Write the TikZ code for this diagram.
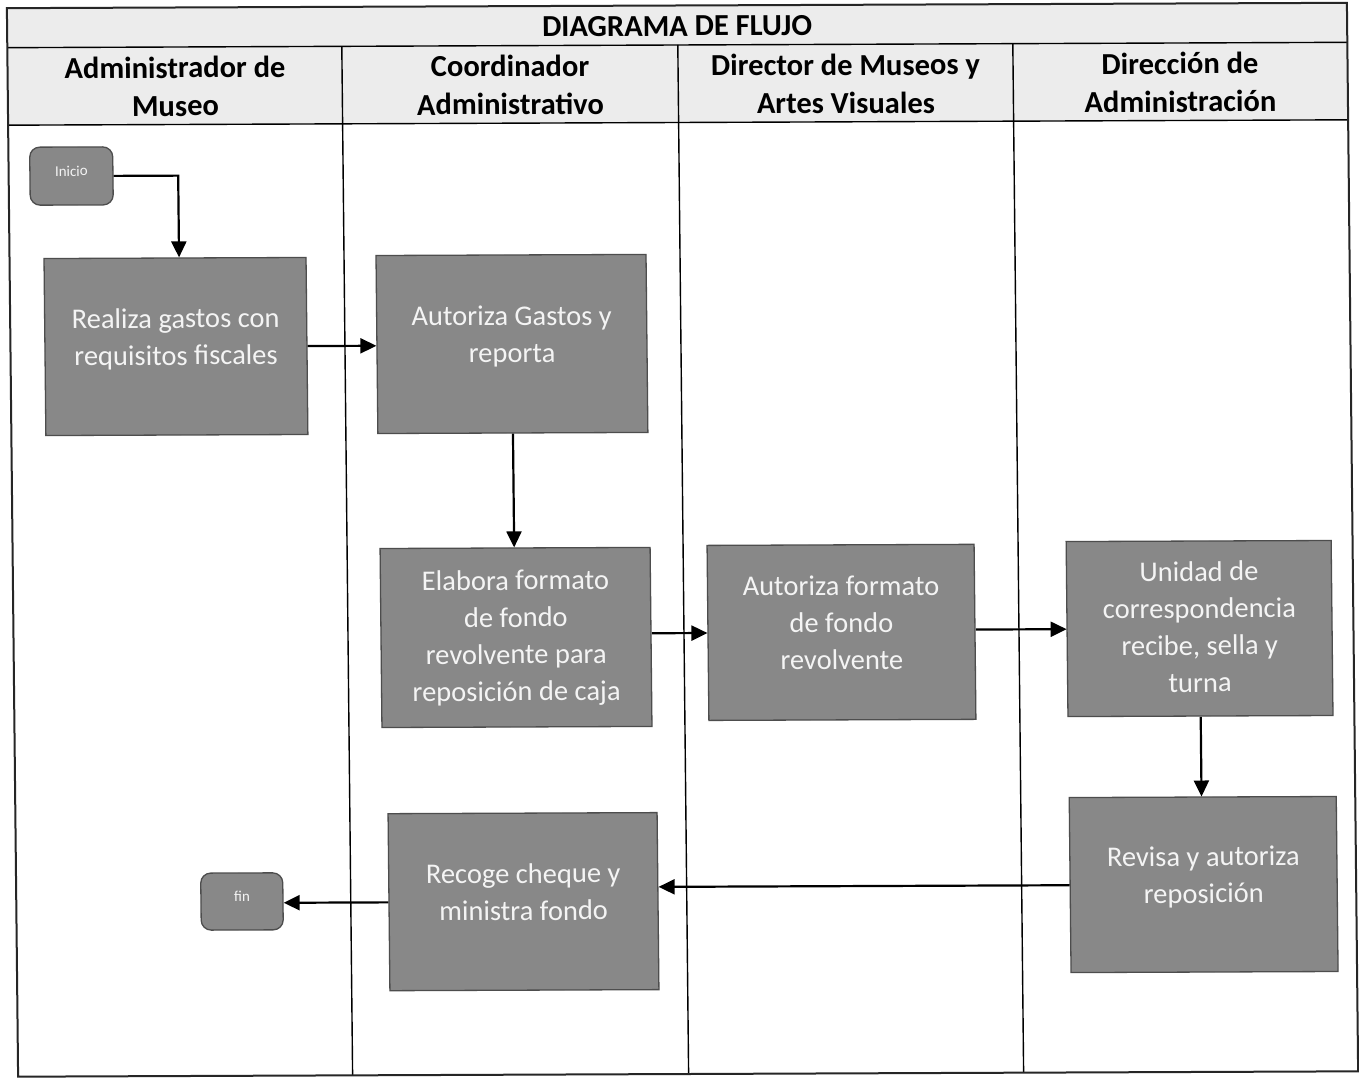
\documentclass[tikz,border=0pt]{standalone}
\usepackage{fontspec}
\setmainfont{Carlito}
\usetikzlibrary{arrows.meta}
\definecolor{stepfill}{HTML}{888888}
\definecolor{stepline}{HTML}{4D4D4D}
\definecolor{headfill}{HTML}{ECECEC}
\definecolor{steptext}{HTML}{F4F4F4}
% invisible struts: top line height / last line depth, so the baselines sit centred
\newcommand\txtup[1][22pt]{\rule{0pt}{#1}}
\newcommand\txtdn[1][22pt]{\rule[-#1]{0pt}{#1}}
\begin{document}
\begin{tikzpicture}[x=1pt,y=-1pt,
  gridline/.style={draw=black,line width=1.4pt},
  frameline/.style={draw=black!85,line width=2pt},
  lanehead/.style={font=\bfseries\fontsize{30.5}{38}\selectfont,align=center,inner sep=0pt},
  stepbox/.style={draw=stepline,line width=1.3pt,fill=stepfill,text=steptext,
    align=center,inner sep=0pt,font=\fontsize{28.5}{37}\selectfont},
  terminal/.style={draw=stepline,line width=1.3pt,fill=stepfill,rounded corners=10pt,
    text=steptext,minimum width=82pt,minimum height=57pt,inner sep=0pt,
    text height=6pt,text depth=6pt,font=\fontsize{15}{18}\selectfont},
  flow/.style={draw=black,line width=2.2pt,-{Triangle[length=16pt,width=15pt]}},
]
\useasboundingbox (0,0) rectangle (1359,1080);
\fill[white] (0,0) rectangle (1359,1080);

\begin{scope}[shift={(680,540)},cm={1,0.004,-0.0105,1,(0,0)},shift={(-680,-540)},transform shape]

% swimlane table
\fill[headfill] (12.5,5.5) rectangle (1352.5,122.5);
\draw[gridline] (12.5,45) -- (1352.5,45);
\draw[gridline] (12.5,122.5) -- (1352.5,122.5);
\draw[gridline] (347,45) -- (347,1074);
\draw[gridline] (683,45) -- (683,1074);
\draw[gridline] (1018,45) -- (1018,1074);
\draw[frameline] (12.5,5.5) rectangle (1352.5,1074);

\node[lanehead,anchor=base] (title) at (682.5,36) {DIAGRAMA DE FLUJO};
\node[lanehead] (lane1) at (180,95) {\txtup Administrador de\\Museo\txtdn};
\node[lanehead] (lane2) at (515,95) {\txtup Coordinador\\Administrativo\txtdn};
\node[lanehead] (lane3) at (850.5,95) {\txtup Director de Museos y\\Artes Visuales\txtdn};
\node[lanehead] (lane4) at (1185,95) {\txtup Dirección de\\Administración\txtdn};

% process steps
\node[terminal,minimum width=83pt,minimum height=58pt] (ini) at (75.3,173.6) {Inicio};
\node[stepbox,minimum width=262pt,minimum height=177pt] (A) at (178,344.5)
  {\txtup Realiza gastos con\\requisitos fiscales\txtdn};
\node[stepbox,minimum width=270pt,minimum height=178pt] (B) at (514,343.3)
  {\txtup Autoriza Gastos y\\reporta\txtdn};
\node[stepbox,minimum width=270pt,minimum height=179pt] (C) at (515,636.8)
  {\txtup[30pt]Elabora formato\\de fondo\\revolvente para\\reposición de caja\txtdn[14pt]};
\node[stepbox,minimum width=267pt,minimum height=175pt] (D) at (840.5,633)
  {\txtup Autoriza formato\\de fondo\\revolvente\txtdn};
\node[stepbox,minimum width=265pt,minimum height=175pt] (E) at (1198.6,630.6)
  {\txtup[30pt]Unidad de\\correspondencia\\recibe, sella y\\turna\txtdn[14pt]};
\node[stepbox,minimum width=267pt,minimum height=175pt] (F) at (1200,886.6)
  {\txtup Revisa y autoriza\\reposición\txtdn};
\node[stepbox,minimum width=269pt,minimum height=177pt] (G) at (519.7,901)
  {\txtup Recoge cheque y\\ministra fondo\txtdn};
\node[terminal] (fin) at (238.2,899.7) {fin};

% connectors
\draw[flow] (ini.east) -| ([xshift=4pt]A.north);
\draw[flow] (A.east) -- (A.east -| B.west);
\draw[flow] (B.south) -- (B.south |- C.north);
\draw[flow] (C.east |- D.west) -- (D.west);
\draw[flow] (D.east |- E.west) -- (E.west);
\draw[flow] (E.south) -- (E.south |- F.north);
\draw[flow] (F.west) -- (F.west -| G.east);
\draw[flow] (G.west) -- (G.west -| fin.east);
\end{scope}
\end{tikzpicture}
\end{document}
